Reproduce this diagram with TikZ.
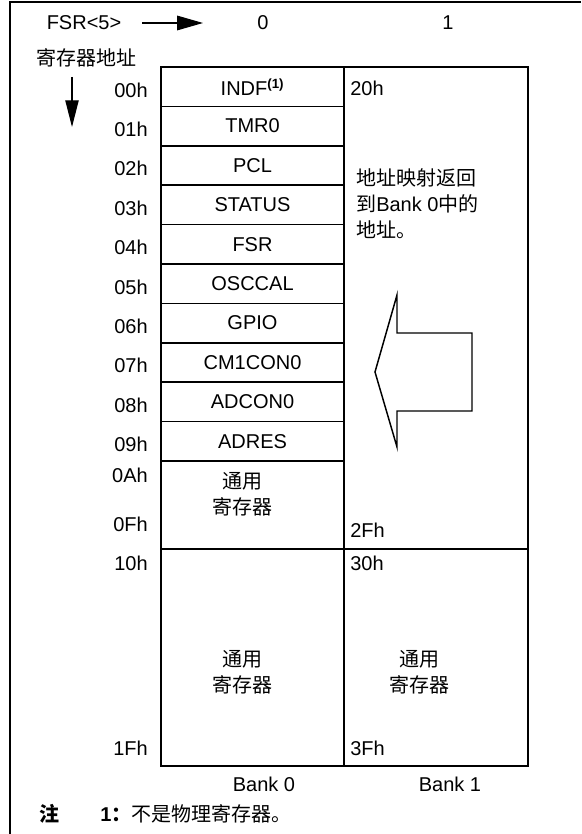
\documentclass[tikz,border=0pt]{standalone}
\usepackage{fontspec}
\setmainfont{Liberation Sans}
\newfontfamily\cjk{Noto Sans CJK SC}
\usetikzlibrary{arrows.meta}

\tikzset{
  lbl/.style={font=\fontsize{15}{18}\selectfont, inner sep=0pt},
  cjklbl/.style={font=\cjk\fontsize{15}{19.5}\selectfont, inner sep=0pt, align=center},
  frameline/.style={line width=1.4pt},
  boxline/.style={line width=1.5pt},
  rowline/.style={line width=1.3pt},
  hdarrow/.style={line width=0.8pt, -{Triangle[length=19.5pt,width=11pt]}},
}

\begin{document}
\begin{tikzpicture}[x=0.75pt,y=0.75pt,yscale=-1,xscale=1]
\useasboundingbox (0,0) rectangle (581,834);

%Straight Lines: frame, top and left only
\draw[frameline] (10,834) -- (10,2) -- (581,2);

%Text: header
\node[lbl] (fsr) at (84,23) {FSR<5>};
\coordinate (fsrS) at (142,23);
\coordinate (fsrE) at (203,23);
\draw[hdarrow] (fsrS) -- (fsrE);
\node[lbl] (bit0) at (263,23) {0};
\node[lbl] (bit1) at (448,23) {1};

\node[cjklbl] (adrtitle) at (86,58) {寄存器地址};
\coordinate (downS) at (72,77);
\coordinate (downE) at (72,127);
\draw[line width=0.8pt, -{Triangle[length=20pt,width=10pt]}] (downS) -- (downE);

%Shape: Rows of Bank 0
\foreach \nm/\ad [count=\i from 0] in {{INDF\textsuperscript{\bfseries\fontsize{10}{12}\selectfont(1)}}/00h,TMR0/01h,PCL/02h,STATUS/03h,FSR/04h,OSCCAL/05h,GPIO/06h,CM1CON0/07h,ADCON0/08h,ADRES/09h}{
  \draw[rowline] (161,{67+39.4*\i}) -- (344,{67+39.4*\i});
  \node[lbl] (reg\i) at (252.5,{86.7+39.4*\i}) {\nm};
  \node[lbl,anchor=east] (adr\i) at (148,{90+39.4*\i}) {\ad};
}
\draw[rowline] (161,461) -- (344,461);

%Shape: Bank outlines
\draw[boxline] (161,67) rectangle (344,766);
\draw[boxline] (344,67) rectangle (528,766);
\draw[line width=2.2pt] (161,549) -- (528,549);

%Text: address labels
\node[lbl,anchor=east] (adrA) at (148,475) {0Ah};
\node[lbl,anchor=east] (adrF) at (148,524) {0Fh};
\node[lbl,anchor=east] (adr10) at (148,563) {10h};
\node[lbl,anchor=east] (adr1F) at (148,748) {1Fh};
\node[lbl,anchor=west] (adr20) at (350,88) {20h};
\node[lbl,anchor=west] (adr2F) at (350,530) {2Fh};
\node[lbl,anchor=west] (adr30) at (350,563) {30h};
\node[lbl,anchor=west] (adr3F) at (350,748) {3Fh};

%Text: general purpose registers
\node[cjklbl] (gp0a) at (242,494) {通用\\寄存器};
\node[cjklbl] (gp0b) at (242,672) {通用\\寄存器};
\node[cjklbl] (gp1b) at (419,672) {通用\\寄存器};

%Text: mapping note in Bank 1
\node[cjklbl,align=left,anchor=west] (mapnote) at (356,204) {地址映射返回\\到{\normalfont Bank 0}中的\\地址。};

%Shape: big left arrow
\draw[line width=1.1pt, line join=miter] (397,295) -- (397,333) -- (472,333) -- (472,411) -- (397,411) -- (397,447) -- (375,372) -- cycle;

%Text: bank names
\node[lbl] (bank0) at (264,784) {Bank 0};
\node[lbl] (bank1) at (450,784) {Bank 1};

%Text: note
\node[cjklbl,font=\cjk\bfseries\fontsize{15}{18}\selectfont] (note) at (49,814) {注};
\node[lbl,anchor=west] (notetxt) at (100,814) {\textbf{1}{\cjk\bfseries ：}{\cjk 不是物理寄存器。}};

\end{tikzpicture}
\end{document}
